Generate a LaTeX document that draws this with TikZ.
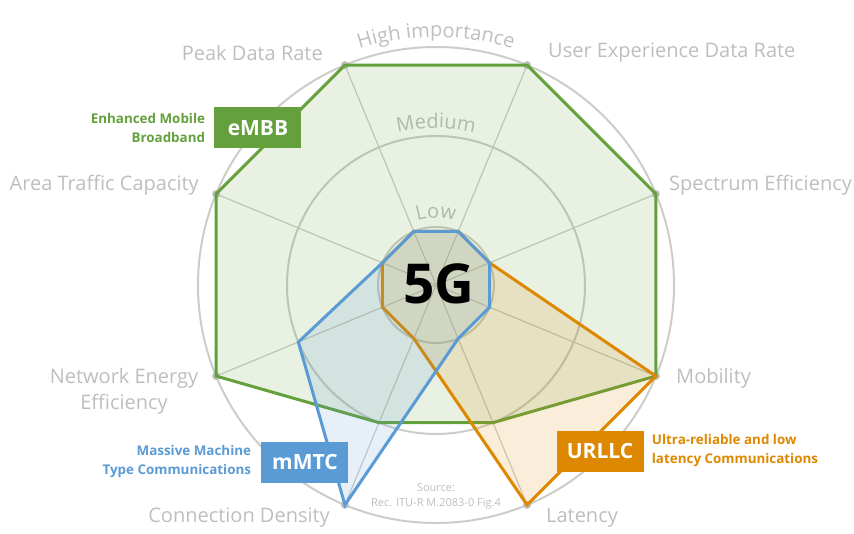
\documentclass[tikz,border=0pt]{standalone}
\usepackage{fontspec}
\setmainfont{Open Sans}
\usetikzlibrary{positioning,decorations.text}
\definecolor{embbgreen}{RGB}{100,160,60}
\definecolor{mmtcblue}{RGB}{91,155,213}
\definecolor{urllcorange}{RGB}{221,136,0}
\definecolor{gridgray}{RGB}{205,205,200}
\definecolor{labelgray}{RGB}{190,190,190}

\begin{document}
\begin{tikzpicture}[x=1pt,y=1pt,
  axislabel/.style={text=labelgray,font=\fontsize{20}{26}\selectfont,inner sep=0pt},
  tagbox/.style={fill=#1,text=white,font=\fontsize{21}{24}\selectfont\bfseries,
    minimum width=87pt,minimum height=41pt,inner sep=0pt},
  tagtext/.style={text=#1,font=\fontsize{13.4}{19}\selectfont\bfseries,inner sep=0pt},
  ring/.style={draw=gridgray,line width=2pt},
  spoke/.style={draw=gridgray,line width=1.2pt},
  profile/.style={draw=#1,line width=3pt,fill=#1,fill opacity=0.15}]
\useasboundingbox (-436,-248) rectangle (418,285);

% grid
\draw[ring] (0,0) circle (58);
\draw[ring] (0,0) circle (149);
\draw[ring] (0,0) circle (238);
\foreach \a in {22.5,67.5,...,337.5}
  \draw[spoke] (0,0) -- (\a:238);
\foreach \a in {22.5,67.5,...,337.5}
  \fill[labelgray] (\a:238) circle (4);

\path[decorate,decoration={text along path,text align=center,text color=labelgray,
  text={|\fontsize{20}{24}\selectfont|High importance}}] (130:248) arc (130:50:248);
\path[decorate,decoration={text along path,text align=center,text color=labelgray,
  text={|\fontsize{20}{24}\selectfont|Medium}}] (140:157) arc (140:40:157);
\path[decorate,decoration={text along path,text align=center,text color=labelgray,
  text={|\fontsize{20}{24}\selectfont|Low}}] (160:67) arc (160:20:67);

% eMBB
\draw[profile=embbgreen] (112.5:238) -- (67.5:238) -- (22.5:238) -- (-22.5:238)
  -- (-67.5:149) -- (-112.5:149) -- (-157.5:238) -- (157.5:238) -- cycle;
% URLLC
\draw[profile=urllcorange] (112.5:58) -- (67.5:58) -- (22.5:58) -- (-22.5:238)
  -- (-67.5:238) -- (-112.5:58) -- (-157.5:58) -- (157.5:58) -- cycle;
% mMTC
\draw[profile=mmtcblue] (112.5:58) -- (67.5:58) -- (22.5:58) -- (-22.5:58)
  -- (-67.5:58) -- (-112.5:238) -- (-157.5:149) -- (157.5:58) -- cycle;

\node[font=\fontsize{55}{60}\selectfont\bfseries] (core) at (3,1) {5G};

\node[axislabel,anchor=east] (peak) at (-113,232) {Peak Data Rate};
\node[axislabel,anchor=west] (userexp) at (112,232) {User Experience Data Rate};
\node[axislabel,anchor=west] (spectrum) at (233,100) {Spectrum Efficiency};
\node[axislabel,anchor=west] (mobility) at (240,-93) {Mobility};
\node[axislabel,anchor=west] (latency) at (110,-233) {Latency};
\node[axislabel,anchor=east] (density) at (-106,-233) {Connection Density};
\node[axislabel,align=center] (energy) at (-312,-106) {Network Energy\\Efficiency};
\node[axislabel,anchor=east] (traffic) at (-237,100) {Area Traffic Capacity};

\node[tagbox=embbgreen] (embb) at (-178,157) {eMBB};
\node[tagtext=embbgreen,align=right,left=9pt of embb] (embbtext) {Enhanced Mobile\\Broadband};
\node[tagbox=mmtcblue] (mmtc) at (-131,-177) {mMTC};
\node[tagtext=mmtcblue,align=right,left=10pt of mmtc] (mmtctext) {Massive Machine\\Type Communications};
\node[tagbox=urllcorange] (urllc) at (164,-166) {URLLC};
\node[tagtext=urllcorange,align=left,right=8pt of urllc] (urllctext) {Ultra-reliable and low\\latency Communications};

\node[text=labelgray,font=\fontsize{11}{15}\selectfont,align=center] (source) at (0,-211)
  {Source:\\Rec. ITU-R M.2083-0 Fig.4};
\end{tikzpicture}
\end{document}
